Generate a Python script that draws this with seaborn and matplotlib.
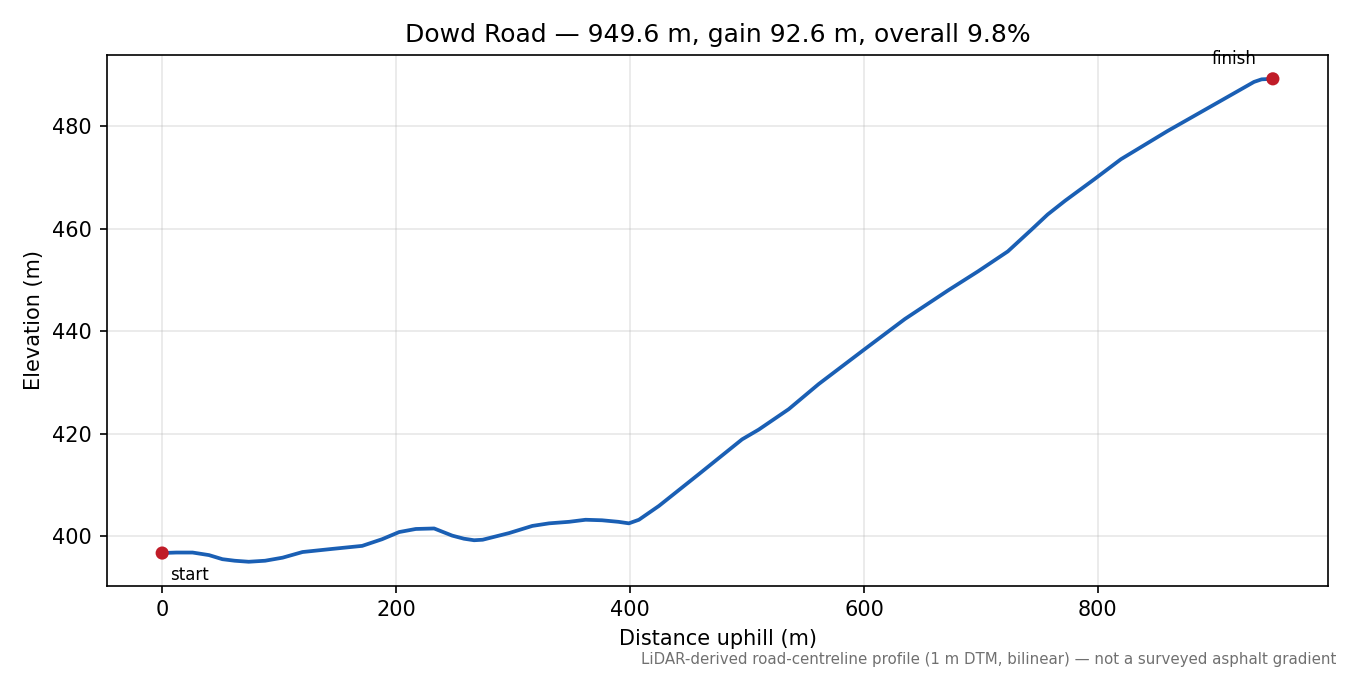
import seaborn as sns
import matplotlib.pyplot as plt
import pandas as pd

# profile (distance uphill, elevation)
distance_m = [0, 12, 26, 40, 51.5, 62, 74, 88, 103, 120, 145, 171, 188, 202.6,
              216.8, 232.5, 248, 258, 266.7, 274, 296.6, 316.5, 330.8, 347.9,
              362, 376, 390, 399, 407.6, 424.7, 458.8, 495.8, 510, 535.7,
              561.3, 600, 635, 672, 697.5, 723, 743, 757, 772, 797, 819.7,
              859.5, 905, 933.5, 940, 949.6]
elevation_m = [396.7, 396.8, 396.8, 396.3, 395.5, 395.2, 395.0, 395.2, 395.8,
               396.9, 397.5, 398.1, 399.4, 400.8, 401.4, 401.5, 400.1, 399.5,
               399.2, 399.3, 400.6, 402.0, 402.5, 402.8, 403.2, 403.1, 402.8,
               402.5, 403.2, 405.9, 412.1, 418.9, 420.8, 424.8, 429.7, 436.4,
               442.4, 448.0, 451.7, 455.6, 459.8, 462.8, 465.5, 469.7, 473.6,
               479.1, 485.0, 488.7, 489.2, 489.3]

title = "Dowd Road \u2014 949.6 m, gain 92.6 m, overall 9.8%"
note = "LiDAR-derived road-centreline profile (1 m DTM, bilinear) \u2014 not a surveyed asphalt gradient"

df = pd.DataFrame({'dist': distance_m, 'elev': elevation_m})
ends = df.iloc[[0, -1]]

fig, ax = plt.subplots(figsize=(9, 4.5), dpi=150)

sns.lineplot(data=df, x='dist', y='elev', ax=ax, color='#1a5fb4', linewidth=1.8)
sns.scatterplot(data=ends, x='dist', y='elev', ax=ax, color='#c01c28', s=40,
                edgecolor='none', zorder=3)

ax.annotate('start', (ends['dist'].iloc[0], ends['elev'].iloc[0]),
            xytext=(4, -6), textcoords='offset points', ha='left', va='top',
            fontsize=8)
ax.annotate('finish', (ends['dist'].iloc[1], ends['elev'].iloc[1]),
            xytext=(-8, 5), textcoords='offset points', ha='right', va='bottom',
            fontsize=8)

ax.grid(True, alpha=0.3)
ax.set_title(title, fontsize=12)
ax.set_xlabel('Distance uphill (m)')
ax.set_ylabel('Elevation (m)')

fig.subplots_adjust(left=0.079, right=0.984, top=0.919, bottom=0.132)
fig.text(0.99, 0.012, note, ha='right', va='bottom', fontsize=7.2, color='#707070')

fig.savefig('out.png', dpi=150)
